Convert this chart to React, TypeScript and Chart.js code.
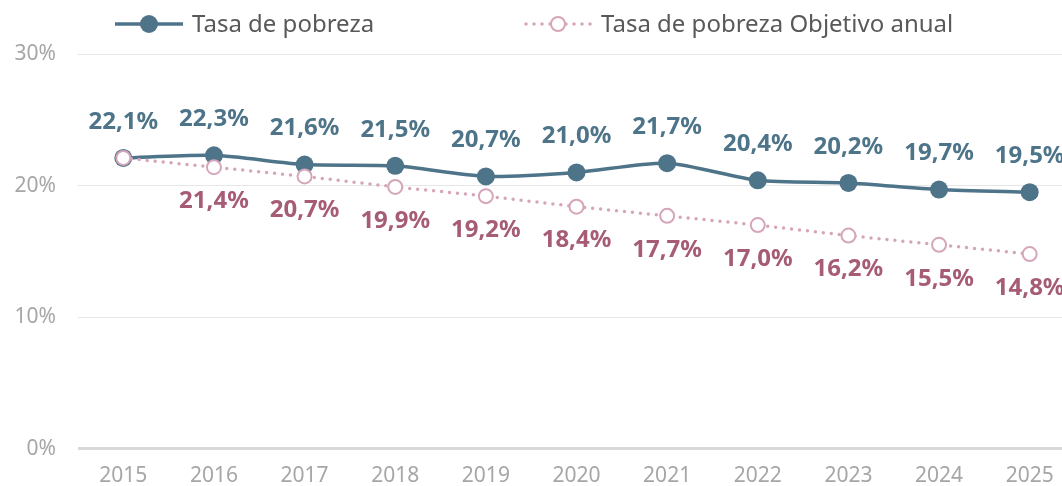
import React, { useEffect, useRef } from "react";
import { Chart, registerables } from "chart.js";

Chart.register(...registerables);

const years = ["2015", "2016", "2017", "2018", "2019", "2020", "2021", "2022", "2023", "2024", "2025"];
const tasaPobreza = [22.1, 22.3, 21.6, 21.5, 20.7, 21.0, 21.7, 20.4, 20.2, 19.7, 19.5];
const tasaObjetivo = [22.1, 21.4, 20.7, 19.9, 19.2, 18.4, 17.7, 17.0, 16.2, 15.5, 14.8];
const seriesNames = ["Tasa de pobreza", "Tasa de pobreza Objetivo anual"];
const yTicks = [0, 10, 20, 30];

const BLUE = "#4e7489";
const PINK = "#d5a6ba";
const PINK_TEXT = "#a65c74";
const FONT = "'Noto Sans', sans-serif";
const W = 1084;
const H = 496;

const fmt = (v: number) => v.toFixed(1).replace(".", ",") + "%";

const labelsPlugin = {
  id: "valueLabels",
  afterDatasetsDraw(chart: any) {
    const ctx = chart.ctx;
    ctx.save();
    ctx.font = `bold 24px ${FONT}`;
    ctx.textAlign = "center";
    ctx.textBaseline = "middle";
    const blueMeta = chart.getDatasetMeta(1);
    blueMeta.data.forEach((pt: any, i: number) => {
      ctx.fillStyle = BLUE;
      ctx.fillText(fmt(tasaPobreza[i]), pt.x, pt.y - 36);
    });
    const pinkMeta = chart.getDatasetMeta(0);
    pinkMeta.data.forEach((pt: any, i: number) => {
      if (i === 0) return;
      ctx.fillStyle = PINK_TEXT;
      ctx.fillText(fmt(tasaObjetivo[i]), pt.x, pt.y + 34);
    });
    ctx.restore();
  },
};

const legendPlugin = {
  id: "customLegend",
  afterDraw(chart: any) {
    const ctx = chart.ctx;
    ctx.save();
    ctx.font = `24px ${FONT}`;
    ctx.textBaseline = "middle";
    const y = 24;
    // item 1
    const x1 = 115;
    ctx.strokeStyle = BLUE;
    ctx.lineWidth = 3.5;
    ctx.beginPath();
    ctx.moveTo(x1, y);
    ctx.lineTo(x1 + 68, y);
    ctx.stroke();
    ctx.fillStyle = BLUE;
    ctx.beginPath();
    ctx.arc(x1 + 34, y, 9, 0, Math.PI * 2);
    ctx.fill();
    ctx.fillStyle = "#595959";
    ctx.fillText(seriesNames[0], x1 + 77, y + 1);
    // item 2
    const x2 = 522;
    ctx.strokeStyle = PINK;
    ctx.lineWidth = 3.5;
    ctx.lineCap = "round";
    ctx.setLineDash([0, 8]);
    ctx.beginPath();
    ctx.moveTo(x2 + 4, y);
    ctx.lineTo(x2 + 72, y);
    ctx.stroke();
    ctx.setLineDash([]);
    ctx.fillStyle = "#ffffff";
    ctx.lineWidth = 2;
    ctx.beginPath();
    ctx.arc(x2 + 36, y, 7, 0, Math.PI * 2);
    ctx.fill();
    ctx.stroke();
    ctx.fillStyle = "#595959";
    ctx.fillText(seriesNames[1], x2 + 79, y + 1);
    ctx.restore();
  },
};

export default function App() {
  const ref = useRef<HTMLCanvasElement | null>(null);

  useEffect(() => {
    document.documentElement.style.overflow = "hidden";
    document.body.style.overflow = "hidden";
    if (!ref.current) return;
    const chart = new Chart(ref.current, {
      type: "line",
      data: {
        labels: years,
        datasets: [
          {
            label: seriesNames[1],
            data: tasaObjetivo,
            borderColor: PINK,
            borderWidth: 3.5,
            borderDash: [0, 8],
            borderCapStyle: "round",
            tension: 0,
            pointRadius: 7,
            pointBorderWidth: 2,
            pointBackgroundColor: "#ffffff",
            pointBorderColor: PINK,
          },
          {
            label: seriesNames[0],
            data: tasaPobreza,
            borderColor: BLUE,
            borderWidth: 3.5,
            tension: 0.25,
            pointRadius: 9,
            pointBorderWidth: 0,
            pointBackgroundColor: BLUE,
            pointBorderColor: BLUE,
          },
        ],
      },
      options: {
        animation: false,
        responsive: false,
        maintainAspectRatio: false,
        layout: { padding: { top: 54, left: 8, right: 6, bottom: 0 } },
        plugins: {
          legend: { display: false },
          tooltip: { enabled: false },
        },
        scales: {
          x: {
            offset: true,
            grid: { display: false },
            border: { display: false },
            ticks: {
              color: "#a6a6a6",
              font: { family: FONT, size: 21 },
              padding: 7,
              maxRotation: 0,
            },
          },
          y: {
            min: 0,
            max: 30,
            afterBuildTicks: (scale: any) => {
              scale.ticks = yTicks.map((v) => ({ value: v }));
            },
            afterFit: (scale: any) => {
              scale.width = 70;
            },
            border: { display: false },
            grid: {
              color: (c: any) => (c.tick && c.tick.value === 0 ? "#d9d9d9" : "#e6e6e6"),
              lineWidth: (c: any) => (c.tick && c.tick.value === 0 ? 3 : 1),
              drawTicks: false,
            },
            ticks: {
              color: "#a6a6a6",
              font: { family: FONT, size: 21 },
              padding: 22,
              callback: (v: any) => v + "%",
            },
          },
        },
      },
      plugins: [labelsPlugin, legendPlugin],
    });
    return () => chart.destroy();
  }, []);

  return (
    <div style={{ position: "fixed", left: 0, top: 0, width: W, height: H }}>
      <canvas ref={ref} width={W} height={H} style={{ width: W, height: H }} />
    </div>
  );
}
